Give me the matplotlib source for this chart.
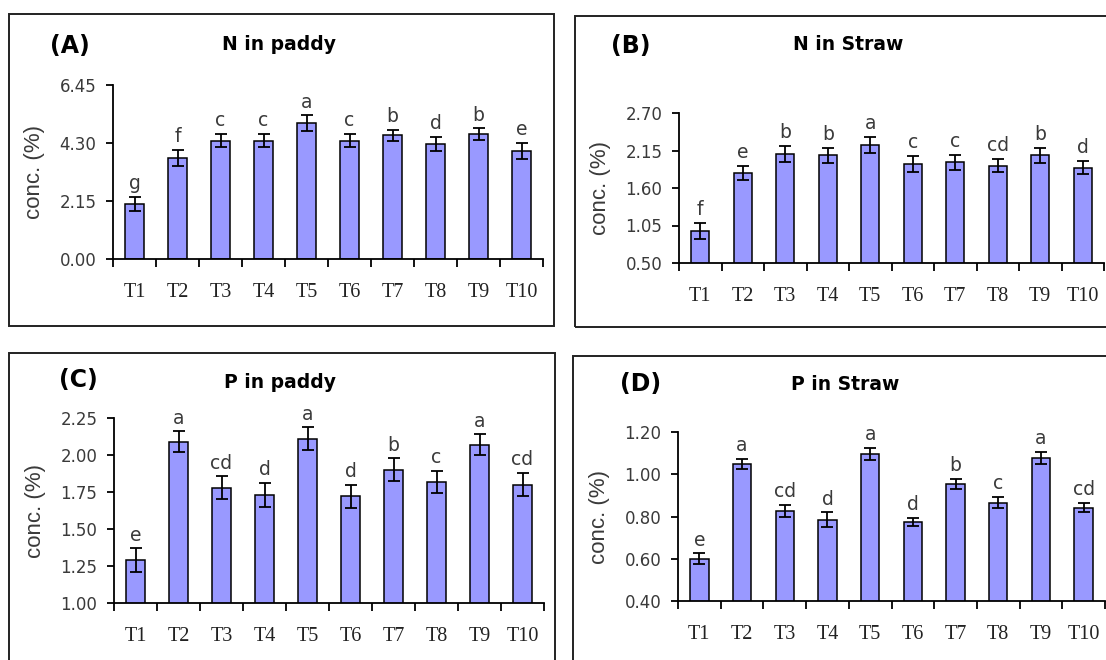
import matplotlib
matplotlib.use("Agg")
import matplotlib.pyplot as plt
from matplotlib.patches import Rectangle
from matplotlib.ticker import FixedLocator, NullFormatter
import numpy as np

treatments = ["T1", "T2", "T3", "T4", "T5", "T6", "T7", "T8", "T9", "T10"]

n_paddy = [2.05, 3.75, 4.39, 4.39, 5.03, 4.39, 4.58, 4.27, 4.63, 4.01]
n_paddy_err = [0.26, 0.30, 0.25, 0.25, 0.29, 0.25, 0.21, 0.26, 0.21, 0.29]
n_paddy_grp = ["g", "f", "c", "c", "a", "c", "b", "d", "b", "e"]

n_straw = [0.97, 1.82, 2.10, 2.08, 2.23, 1.95, 1.98, 1.93, 2.08, 1.90]
n_straw_err = [0.12, 0.105, 0.12, 0.11, 0.12, 0.12, 0.11, 0.10, 0.11, 0.10]
n_straw_grp = ["f", "e", "b", "b", "a", "c", "c", "cd", "b", "d"]

p_paddy = [1.29, 2.09, 1.78, 1.73, 2.11, 1.72, 1.90, 1.82, 2.07, 1.80]
p_paddy_err = [0.08, 0.07, 0.075, 0.08, 0.078, 0.08, 0.077, 0.075, 0.07, 0.08]
p_paddy_grp = ["e", "a", "cd", "d", "a", "d", "b", "c", "a", "cd"]

p_straw = [0.60, 1.05, 0.825, 0.785, 1.095, 0.775, 0.955, 0.865, 1.078, 0.842]
p_straw_err = [0.025, 0.024, 0.029, 0.034, 0.029, 0.02, 0.023, 0.027, 0.028, 0.023]
p_straw_grp = ["e", "a", "cd", "d", "a", "d", "b", "c", "a", "cd"]

yticks_a = [0.00, 2.15, 4.30, 6.45]
yticks_b = [0.50, 1.05, 1.60, 2.15, 2.70]
yticks_c = [1.00, 1.25, 1.50, 1.75, 2.00, 2.25]
yticks_d = [0.40, 0.60, 0.80, 1.00, 1.20]

W, H = 1106, 660
fig = plt.figure(figsize=(W / 100, H / 100), dpi=100)
fig.patch.set_facecolor("white")

BAR = "#9999ff"
GREY = "#3a3a3a"


def px_axes(left, top, right, bottom):
    # pixel box (origin top-left) -> figure fraction axes
    return fig.add_axes([left / W, 1 - bottom / H, (right - left) / W, (bottom - top) / H])


def panel_box(left, top, right, bottom):
    fig.patches.append(Rectangle((left / W, 1 - bottom / H), (right - left) / W, (bottom - top) / H,
                                 transform=fig.transFigure, fill=False, edgecolor="#222222",
                                 linewidth=1.4, clip_on=False))


def draw_panel(ax, vals, errs, groups, yticks, tag, title, tag_xy, title_xy):
    x = np.arange(len(treatments))
    ax.bar(x, vals, width=0.43, color=BAR, edgecolor="black", linewidth=1.1, zorder=2)
    ax.errorbar(x, vals, yerr=errs, fmt="none", ecolor="black", elinewidth=1.3,
                capsize=4, capthick=1.3, zorder=3)
    for xi, v, e, g in zip(x, vals, errs, groups):
        ax.annotate(g, (xi, v + e), xytext=(0, 5.5), textcoords="offset points",
                    ha="center", va="baseline", fontsize=13.5, color=GREY,
                    family="DejaVu Sans", annotation_clip=False)

    ax.set_xlim(-0.5, len(treatments) - 0.5)
    ax.set_ylim(yticks[0], yticks[-1])
    ax.set_yticks(yticks)
    ax.set_yticklabels([f"{t:.2f}" for t in yticks], family="DejaVu Sans", fontsize=12, color=GREY)
    ax.set_xticks(x)
    ax.set_xticklabels(treatments, family="Liberation Serif", fontsize=14.5, color="#222222")
    ax.xaxis.set_minor_locator(FixedLocator(np.arange(-0.5, len(treatments))))
    ax.xaxis.set_minor_formatter(NullFormatter())
    ax.tick_params(axis="x", which="major", length=0, pad=17)
    ax.tick_params(axis="x", which="minor", length=6, width=1.3, direction="out")
    ax.tick_params(axis="y", length=5, width=1.3, direction="out", pad=7)
    for s in ("top", "right"):
        ax.spines[s].set_visible(False)
    for s in ("left", "bottom"):
        ax.spines[s].set_linewidth(1.3)
        ax.spines[s].set_color("black")
    ax.patch.set_alpha(0)

    ax.set_ylabel("conc. (%)", family="Liberation Sans", fontsize=16, color=GREY)
    bb = ax.get_position()
    ax.yaxis.set_label_coords(-68 / (bb.width * W), 0.5)

    fig.text(tag_xy[0] / W, 1 - tag_xy[1] / H, tag, ha="center", va="center",
             fontsize=17, fontweight="bold", family="DejaVu Sans")
    fig.text(title_xy[0] / W, 1 - title_xy[1] / H, title, ha="center", va="center",
             fontsize=13.5, fontweight="bold", family="DejaVu Sans")


# panel frames
panel_box(9, 14, 554, 326)
panel_box(575, 16, 1112, 327)
panel_box(9, 353, 555, 668)
panel_box(573, 356, 1112, 668)

ax_a = px_axes(113, 85, 543, 259)
ax_b = px_axes(679, 113, 1104, 263)
ax_c = px_axes(114, 418, 544, 603)
ax_d = px_axes(678, 432, 1105, 601)

draw_panel(ax_a, n_paddy, n_paddy_err, n_paddy_grp, yticks_a, "(A)", "N in paddy", (70, 46), (279, 44))
draw_panel(ax_b, n_straw, n_straw_err, n_straw_grp, yticks_b, "(B)", "N in Straw", (631, 46), (848, 45))
draw_panel(ax_c, p_paddy, p_paddy_err, p_paddy_grp, yticks_c, "(C)", "P in paddy", (78, 380), (280, 383))
draw_panel(ax_d, p_straw, p_straw_err, p_straw_grp, yticks_d, "(D)", "P in Straw", (641, 384), (845, 385))

fig.savefig("out.png", dpi=100, facecolor="white")
